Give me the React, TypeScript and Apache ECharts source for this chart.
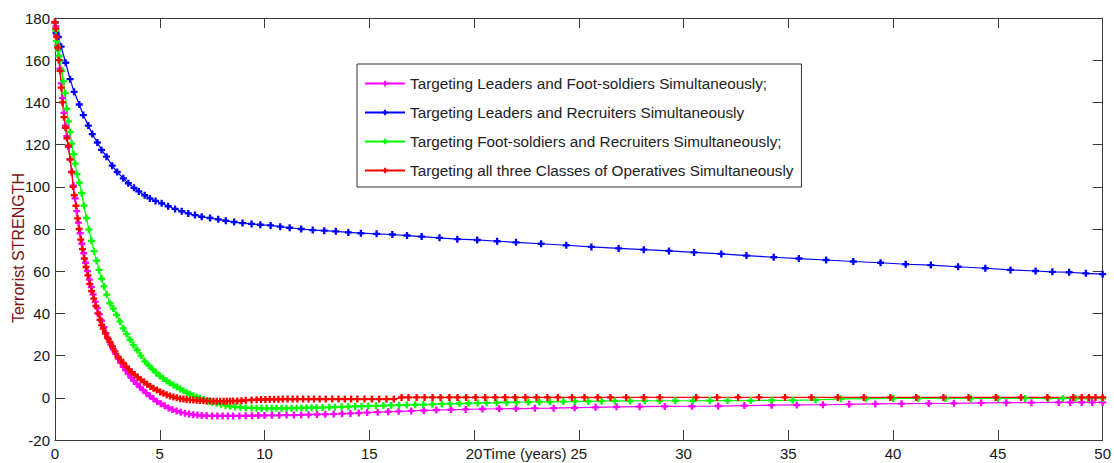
import React, { useEffect, useRef } from "react";
import * as echarts from "echarts";

// Model output: terrorist strength over time for four targeting strategies.
const xTicks = { min: 0, max: 50, step: 5 };
const yTicks = { min: -20, max: 180, step: 20 };

const seriesNames = [
  "Targeting Leaders and Foot-soldiers Simultaneously;",
  "Targeting Leaders and Recruiters Simultaneously",
  "Targeting Foot-soldiers and Recruiters Simultaneously;",
  "Targeting all three Classes of Operatives Simultaneously",
];

const seriesColors = ["#ff00ff", "#0000ff", "#00ff00", "#ff0000"];

// [time (years), strength]
const leadersFoot: number[][] = [
  [0, 178], [0.04, 176], [0.08, 172], [0.13, 167], [0.18, 162], [0.24, 156], [0.3, 149], [0.36, 142],
  [0.43, 135], [0.5, 129], [0.57, 124], [0.64, 119], [0.72, 113], [0.8, 107], [0.88, 100.5], [0.96, 94.5],
  [1.04, 88.5], [1.12, 83], [1.2, 78], [1.28, 73], [1.37, 68.5], [1.46, 64], [1.55, 60], [1.64, 56],
  [1.73, 52.5], [1.82, 49], [1.92, 45.5], [2.02, 42.5], [2.12, 39.5], [2.22, 36.5], [2.33, 33.5], [2.44, 30.5],
  [2.55, 27.8], [2.66, 25.3], [2.78, 23], [2.9, 20.8], [3.02, 18.6], [3.14, 16.6], [3.26, 14.7], [3.38, 13],
  [3.5, 11.3], [3.63, 9.6], [3.76, 8.1], [3.9, 6.6], [4.05, 5.1], [4.2, 3.7], [4.36, 2.2], [4.53, 0.8],
  [4.7, -0.5], [4.87, -1.7], [5.05, -2.8], [5.23, -3.8], [5.42, -4.8], [5.6, -5.6], [5.8, -6.3], [6.0, -6.9],
  [6.2, -7.3], [6.4, -7.7], [6.6, -8.0], [6.8, -8.2], [7.0, -8.4], [7.24, -8.5], [7.5, -8.6], [7.75, -8.6],
  [8.0, -8.6], [8.25, -8.6], [8.5, -8.6], [8.8, -8.6], [9.1, -8.5], [9.4, -8.5], [9.7, -8.4], [10.0, -8.4],
  [10.35, -8.3], [10.7, -8.3], [11.05, -8.2], [11.4, -8.2], [11.75, -8.1], [12.1, -8.0], [12.5, -7.9], [12.9, -7.8],
  [13.3, -7.7], [13.7, -7.5], [14.1, -7.4], [14.5, -7.2], [14.9, -7.0], [15.4, -6.8], [15.9, -6.6], [16.4, -6.4],
  [17.0, -6.2], [17.6, -6.0], [18.2, -5.8], [18.9, -5.6], [19.6, -5.5], [20.4, -5.3], [21.2, -5.2], [22.0, -5.1],
  [22.9, -5.0], [23.8, -4.9], [24.8, -4.7], [25.8, -4.5], [26.8, -4.3], [27.9, -4.2], [29.1, -4.1], [30.4, -4.0],
  [31.65, -3.9], [32.9, -3.7], [34.2, -3.5], [35.4, -3.4], [36.65, -3.3], [37.9, -3.1], [39.15, -2.9], [40.4, -2.8],
  [41.7, -2.7], [42.9, -2.6], [44.2, -2.4], [45.4, -2.3], [46.6, -2.3], [47.9, -2.2], [48.45, -2.2], [49.0, -2.2],
  [49.5, -2.2], [50, -2.2],
];

const leadersRecruiters: number[][] = [
  [0, 178], [0.05, 173], [0.16, 171], [0.29, 166.4], [0.51, 158.8], [0.72, 151], [0.91, 145], [1.16, 139],
  [1.35, 134], [1.59, 129], [1.78, 125], [2.02, 121], [2.22, 117.5], [2.46, 114.3], [2.73, 110], [2.97, 107],
  [3.26, 104], [3.5, 101.7], [3.77, 99.5], [4.0, 97.8], [4.28, 96], [4.53, 94.5], [4.8, 93.3], [5.09, 92.2],
  [5.4, 90.8], [5.73, 89.5], [6.05, 88.4], [6.36, 87.4], [6.68, 86.6], [7.0, 85.8], [7.4, 85.2], [7.79, 84.6],
  [8.15, 83.9], [8.55, 83.3], [8.95, 82.8], [9.38, 82.4], [9.8, 82.0], [10.29, 81.7], [10.75, 81.1], [11.2, 80.6],
  [11.75, 80.0], [12.3, 79.5], [12.85, 79.2], [13.4, 78.9], [14.0, 78.4], [14.6, 78.0], [15.35, 77.7], [16.1, 77.4],
  [16.8, 76.9], [17.5, 76.4], [18.35, 75.8], [19.2, 75.2], [20.15, 74.8], [21.1, 74.2], [22.0, 73.7], [23.2, 73.0],
  [24.4, 72.3], [25.6, 71.5], [26.9, 70.8], [28.1, 70.2], [29.3, 69.6], [30.5, 68.9], [31.8, 68.2], [33.0, 67.4],
  [34.3, 66.6], [35.5, 66.0], [36.8, 65.3], [38.1, 64.6], [39.4, 64.0], [40.6, 63.3], [41.8, 62.9], [43.1, 62.1],
  [44.4, 61.4], [45.6, 60.6], [46.8, 60.1], [47.6, 59.7], [48.4, 59.5], [49.2, 59.0], [50, 58.6],
];

const footRecruiters: number[][] = [
  [0, 178], [0.04, 174], [0.08, 169], [0.12, 166.5], [0.16, 164.5], [0.2, 162], [0.24, 160], [0.32, 155],
  [0.4, 150], [0.48, 144.5], [0.56, 137], [0.64, 131], [0.72, 126], [0.8, 120.5], [0.88, 115.5], [0.96, 111],
  [1.05, 106], [1.16, 102], [1.27, 97], [1.38, 91.1], [1.5, 85.2], [1.62, 79.7], [1.74, 74.4], [1.86, 69.5],
  [1.98, 65], [2.1, 60.6], [2.22, 56.5], [2.34, 52.8], [2.47, 48.9], [2.62, 44.8], [2.78, 42.3], [2.94, 39.3],
  [3.1, 36.2], [3.26, 32.9], [3.42, 30.2], [3.58, 27.5], [3.74, 25], [3.92, 22.6], [4.1, 20.0], [4.29, 17.3],
  [4.48, 15.3], [4.66, 13.5], [4.83, 11.9], [5.0, 10.4], [5.16, 9.2], [5.32, 8.1], [5.48, 7.0], [5.65, 6.1],
  [5.82, 5.1], [5.98, 4.2], [6.13, 3.3], [6.28, 2.5], [6.44, 1.7], [6.6, 1.0], [6.76, 0.4], [6.92, -0.2],
  [7.1, -0.8], [7.3, -1.5], [7.5, -2.1], [7.71, -2.6], [7.92, -3.1], [8.14, -3.6], [8.36, -4.0], [8.6, -4.3],
  [8.85, -4.5], [9.1, -4.7], [9.38, -4.8], [9.62, -4.9], [9.86, -5.0], [10.1, -5.0], [10.34, -5.0], [10.57, -5.0],
  [10.81, -5.0], [11.05, -5.0], [11.29, -4.9], [11.53, -4.9], [11.76, -4.8], [12.0, -4.8], [12.24, -4.7], [12.48, -4.7],
  [12.77, -4.6], [13.09, -4.5], [13.36, -4.4], [13.68, -4.3], [14.0, -4.2], [14.32, -4.1], [14.63, -4.0], [14.95, -3.9],
  [15.32, -3.8], [15.67, -3.7], [16.04, -3.6], [16.42, -3.5], [16.79, -3.4], [17.19, -3.3], [17.58, -3.2], [18.01, -3.1],
  [18.46, -2.9], [18.85, -2.8], [19.3, -2.7], [19.73, -2.6], [20.17, -2.5], [20.6, -2.4], [21.08, -2.3], [21.55, -2.2],
  [22.03, -2.1], [22.59, -2.0], [23.11, -1.9], [23.62, -1.9], [24.26, -1.8], [24.82, -1.7], [25.45, -1.7], [26.09, -1.6],
  [26.72, -1.5], [27.44, -1.5], [28.15, -1.4], [28.86, -1.4], [29.6, -1.4], [30.45, -1.4], [31.25, -1.3], [32.1, -1.3],
  [33.2, -1.3], [34.2, -1.2], [35.2, -1.2], [36.3, -1.0], [37.5, -0.5], [38.7, -0.4], [40.0, -0.3], [41.2, -0.3],
  [42.5, -0.3], [43.7, -0.3], [45.0, -0.3], [46.3, -0.3], [47.4, -0.3], [48.1, -0.3], [48.7, -0.3], [49.3, -0.3],
  [50, -0.3],
];

const allThree: number[][] = [
  [0, 178], [0.04, 175], [0.08, 171], [0.13, 166], [0.18, 160], [0.24, 155], [0.3, 147], [0.36, 140],
  [0.43, 133], [0.5, 128], [0.57, 123], [0.64, 119.5], [0.72, 113], [0.8, 107], [0.86, 100], [0.92, 96],
  [1.0, 91], [1.08, 85], [1.15, 80], [1.23, 75], [1.31, 70.5], [1.4, 66], [1.48, 62], [1.57, 58],
  [1.66, 54], [1.75, 50.5], [1.85, 47], [1.95, 43.5], [2.05, 40], [2.15, 37], [2.23, 34.5], [2.3, 32.8],
  [2.4, 30.5], [2.5, 28.5], [2.62, 26.5], [2.74, 24.3], [2.86, 22], [3.0, 19.5], [3.13, 18], [3.26, 16.5],
  [3.4, 14.8], [3.53, 13.5], [3.66, 12.2], [3.8, 11], [3.95, 9.7], [4.1, 8.6], [4.25, 7.5], [4.4, 6.4],
  [4.55, 5.4], [4.7, 4.5], [4.86, 3.7], [5.02, 2.8], [5.17, 2.1], [5.33, 1.5], [5.49, 0.9], [5.65, 0.4],
  [5.81, 0], [5.97, -0.4], [6.13, -0.6], [6.28, -0.8], [6.44, -1.0], [6.6, -1.1], [6.76, -1.2], [6.92, -1.3],
  [7.08, -1.4], [7.24, -1.5], [7.4, -1.5], [7.56, -1.6], [7.72, -1.6], [7.88, -1.6], [8.05, -1.6], [8.2, -1.6],
  [8.35, -1.6], [8.5, -1.5], [8.7, -1.5], [8.9, -1.4], [9.1, -1.2], [9.38, -1.0], [9.62, -0.9], [9.83, -0.8],
  [10.04, -0.8], [10.25, -0.7], [10.46, -0.7], [10.66, -0.7], [10.87, -0.6], [11.1, -0.6], [11.34, -0.6], [11.57, -0.6],
  [11.84, -0.6], [12.1, -0.6], [12.36, -0.6], [12.63, -0.6], [12.92, -0.6], [13.23, -0.6], [13.53, -0.6], [13.83, -0.6],
  [14.13, -0.6], [14.43, -0.6], [14.77, -0.6], [15.12, -0.6], [15.47, -0.6], [15.82, -0.6], [16.17, -0.6], [16.54, 0.2],
  [16.87, 0.2], [17.26, 0.2], [17.64, 0.2], [18.02, 0.2], [18.4, 0.2], [18.82, 0.2], [19.21, 0.2], [19.62, 0.2],
  [20.07, 0.2], [20.53, 0.2], [21.01, 0.2], [21.48, 0.2], [21.96, 0.2], [22.45, 0.2], [22.98, 0.2], [23.5, 0.2],
  [24.0, 0.2], [24.67, 0.2], [25.27, 0.2], [25.9, 0.2], [26.51, 0.2], [27.26, 0.2], [28.1, 0.2], [28.86, 0.2],
  [30.6, 0.2], [31.6, 0.2], [32.6, 0.2], [33.6, 0.2], [34.84, 0.2], [36.1, 0.2], [37.36, 0.2], [38.6, 0.2],
  [39.87, 0.2], [41.1, 0.2], [42.4, 0.2], [43.6, 0.2], [44.9, 0.2], [46.1, 0.2], [47.36, 0.2], [48.6, 0.2],
  [49.0, 0.2], [49.35, 0.2], [49.66, 0.2], [50, 0.2],
];

const seriesData = [leadersFoot, leadersRecruiters, footRecruiters, allThree];

const FONT = "'Liberation Sans', Arial, Helvetica, sans-serif";
const PLUS = "path://M3,0H6V3H9V6H6V9H3V6H0V3H3Z";
const AXIS_COLOR = "#3a3a3a";

function buildOption() {
  const boxAxis = (pos: string, isX: boolean, range: typeof xTicks, showLabel: boolean) => ({
    type: "value",
    position: pos,
    min: range.min,
    max: range.max,
    interval: range.step,
    axisLine: { show: true, onZero: false, lineStyle: { color: AXIS_COLOR, width: 1 } },
    axisTick: { show: true, inside: true, length: 10, lineStyle: { color: AXIS_COLOR, width: 1 } },
    axisLabel: {
      show: showLabel,
      color: "#151515",
      fontSize: 15,
      fontFamily: FONT,
      margin: isX ? 6 : 5,
    },
    splitLine: { show: false },
  });

  return {
    animation: false,
    backgroundColor: "#ffffff",
    grid: { left: 55, right: 11, top: 18, bottom: 23, containLabel: false },
    xAxis: [
      boxAxis("bottom", true, xTicks, true),
      boxAxis("top", true, xTicks, false),
    ],
    yAxis: [
      boxAxis("left", false, yTicks, true),
      boxAxis("right", false, yTicks, false),
    ],
    legend: {
      orient: "vertical",
      left: 357,
      top: 64,
      backgroundColor: "#ffffff",
      borderColor: "#333333",
      borderWidth: 1,
      borderRadius: 0,
      padding: [12, 8, 9, 7],
      itemWidth: 40,
      itemHeight: 7,
      itemGap: 14,
      textStyle: { fontSize: 15.3, color: "#222222", fontFamily: FONT, lineHeight: 14 },
      data: seriesNames,
    },
    series: seriesNames.map((name, i) => ({
      name,
      type: "line",
      xAxisIndex: 0,
      yAxisIndex: 0,
      data: seriesData[i],
      symbol: PLUS,
      symbolSize: 7,
      showSymbol: true,
      showAllSymbol: true,
      clip: false,
      color: seriesColors[i],
      lineStyle: { color: seriesColors[i], width: 1.2 },
      itemStyle: { color: seriesColors[i] },
      emphasis: { disabled: true },
    })),
    graphic: [
      {
        type: "text",
        left: 483,
        top: 446,
        style: { text: "Time (years)", fill: "#222222", fontSize: 15, fontFamily: FONT },
      },
      {
        type: "text",
        x: 18,
        y: 248,
        rotation: Math.PI / 2,
        style: {
          text: "Terrorist STRENGTH",
          fill: "#7a1212",
          fontSize: 16,
          fontFamily: FONT,
          align: "center",
          verticalAlign: "middle",
        },
      },
    ],
  };
}

export default function App() {
  const ref = useRef<HTMLDivElement>(null);

  useEffect(() => {
    if (!ref.current) return;
    const chart = echarts.init(ref.current, undefined, { renderer: "svg" });
    chart.setOption(buildOption() as any);
    return () => chart.dispose();
  }, []);

  return (
    <div
      ref={ref}
      style={{ position: "absolute", left: 0, top: 0, width: 1114, height: 463, background: "#fff" }}
    />
  );
}
